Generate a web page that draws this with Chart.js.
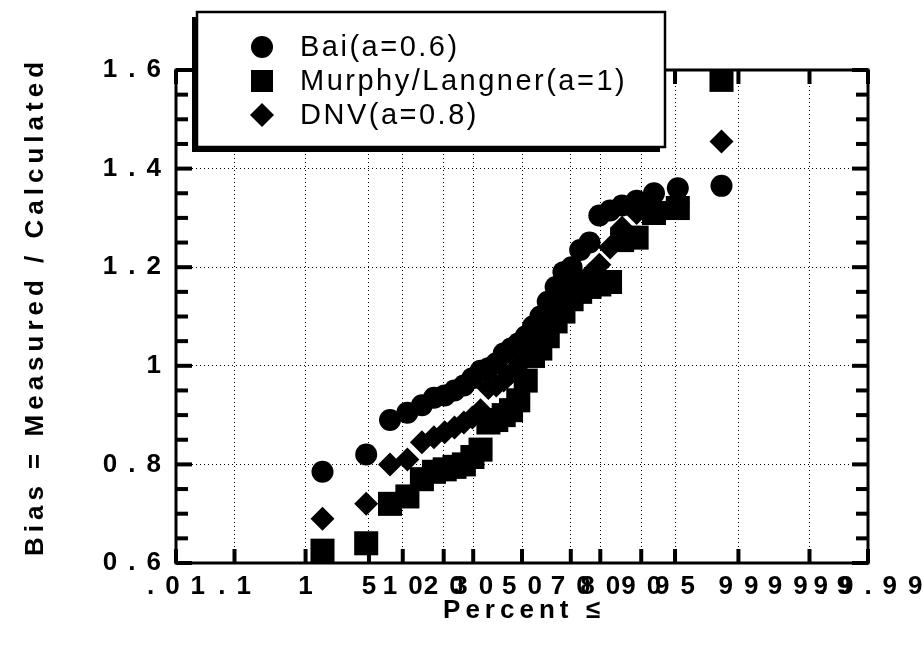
<!DOCTYPE html>
<html>
<head>
<meta charset="utf-8">
<script src="https://cdn.jsdelivr.net/npm/chart.js@4.4.1/dist/chart.umd.min.js"></script>
<style>
  html, body { margin: 0; padding: 0; background: #fff; }
</style>
</head>
<body>
<canvas id="biasPlot" width="924" height="655"></canvas>
<script>
// plotting position (percent <=) shared by the three models
var percentLe = [1.6, 4.7, 7.8, 10.9, 14.1, 17.2, 20.3, 23.4, 26.6, 29.7, 32.8, 35.9, 39.1, 42.2, 45.3, 48.4,
                 51.6, 54.7, 57.8, 60.9, 64.1, 67.2, 70.3, 73.4, 76.6, 79.7, 82.8, 85.9, 89.1, 92.2, 95.3, 98.4];
var baiBias = [0.785, 0.82, 0.89, 0.905, 0.92, 0.935, 0.94, 0.95, 0.96, 0.975, 0.99, 0.995, 1.005, 1.025, 1.035, 1.045,
               1.06, 1.08, 1.1, 1.13, 1.16, 1.19, 1.2, 1.235, 1.25, 1.305, 1.315, 1.325, 1.335, 1.35, 1.36, 1.365];
var murphyBias = [0.625, 0.64, 0.72, 0.735, 0.77, 0.785, 0.79, 0.795, 0.8, 0.815, 0.83, 0.885, 0.89, 0.9, 0.91, 0.93,
                  0.97, 1.02, 1.035, 1.06, 1.09, 1.11, 1.135, 1.15, 1.16, 1.165, 1.17, 1.255, 1.26, 1.31, 1.32, 1.58];
var dnvBias = [0.69, 0.72, 0.8, 0.81, 0.845, 0.855, 0.865, 0.875, 0.885, 0.895, 0.91, 0.955, 0.96, 0.97, 0.985, 1.0,
               1.025, 1.045, 1.08, 1.1, 1.135, 1.15, 1.165, 1.17, 1.185, 1.205, 1.24, 1.28, 1.31, 1.325, 1.33, 1.455];

var seriesNames = ["Bai(a=0.6)", "Murphy/Langner(a=1)", "DNV(a=0.8)"];
var percentTicks = [0.01, 0.1, 1, 5, 10, 20, 30, 50, 70, 80, 90, 95, 99, 99.9, 99.99];
var biasMin = 0.6, biasMax = 1.6, biasStep = 0.2;
var xTitle = "Percent \u2264";
var yTitle = "Bias = Measured / Calculated";

var tickSpacing = 11;   // the old plot spreads its tick digits out a lot

// inverse normal cdf (Acklam) - used by the probability scale
function probit(pct) {
  var p = pct / 100;
  var a = [-39.69683028665376, 220.9460984245205, -275.9285104469687, 138.3577518672690, -30.66479806614716, 2.506628277459239];
  var b = [-54.47609879822406, 161.5858368580409, -155.6989798598866, 66.80131188771972, -13.28068155288572];
  var c = [-0.007784894002430293, -0.3223964580411365, -2.400758277161838, -2.549671010115819, 4.374664141464968, 2.938163982698783];
  var d = [0.007784695709041462, 0.3224671290700398, 2.445134137142996, 3.754408661907416];
  var q, r;
  if (p < 0.02425) {
    q = Math.sqrt(-2 * Math.log(p));
    return (((((c[0]*q+c[1])*q+c[2])*q+c[3])*q+c[4])*q+c[5]) / ((((d[0]*q+d[1])*q+d[2])*q+d[3])*q+1);
  }
  if (p > 1 - 0.02425) {
    q = Math.sqrt(-2 * Math.log(1 - p));
    return -(((((c[0]*q+c[1])*q+c[2])*q+c[3])*q+c[4])*q+c[5]) / ((((d[0]*q+d[1])*q+d[2])*q+d[3])*q+1);
  }
  q = p - 0.5; r = q * q;
  return (((((a[0]*r+a[1])*r+a[2])*r+a[3])*r+a[4])*r+a[5])*q / (((((b[0]*r+b[1])*r+b[2])*r+b[3])*r+b[4])*r+1);
}

function normCdf(z) {
  // Abramowitz-Stegun approximation, only needed for pixel -> value
  var t = 1 / (1 + 0.2316419 * Math.abs(z));
  var y = 0.3989423 * Math.exp(-z * z / 2) * t * (0.3193815 + t * (-0.3565638 + t * (1.781478 + t * (-1.821256 + t * 1.330274))));
  return z > 0 ? 1 - y : y;
}

class ProbitScale extends Chart.Scale {
  determineDataLimits() {
    this.min = this.options.min;
    this.max = this.options.max;
  }
  buildTicks() {
    return percentTicks.map(function(v) { return {value: v}; });
  }
  configure() {
    super.configure();
    this._zStart = probit(this.min);
    this._zRange = probit(this.max) - this._zStart;
  }
  getPixelForValue(v) {
    return this.getPixelForDecimal((probit(v) - this._zStart) / this._zRange);
  }
  getValueForPixel(px) {
    var dec = this.getDecimalForPixel(px);
    return 100 * normCdf(this._zStart + dec * this._zRange);
  }
  getLabelForValue(v) {
    return String(v);
  }
}
ProbitScale.id = 'probit';
ProbitScale.defaults = {};
Chart.register(ProbitScale);

function toPoints(ys) {
  return percentLe.map(function(p, i) { return {x: p, y: ys[i]}; });
}

var markerStyles = ['circle', 'rect', 'rectRot'];
var markerRadius = [11, 17, 12];

// frame, inward tick marks, titles and the boxed legend
var probPlotDecor = {
  id: 'probPlotDecor',
  beforeDraw: function(chart) {
    chart.ctx.letterSpacing = tickSpacing + 'px';
  },
  afterDraw: function(chart) {
    var ctx = chart.ctx, a = chart.chartArea, xs = chart.scales.x, ys = chart.scales.y;
    ctx.save();
    ctx.letterSpacing = '0px';
    ctx.fillStyle = '#000';
    for (var k = 0; k <= 20; k++) {
      var py = ys.getPixelForValue(biasMin + k * 0.05);
      var len = (k % 4 === 0) ? 16 : 12;
      ctx.fillRect(a.left, py - 2, len, 4);
      ctx.fillRect(a.right - len, py - 2, len, 4);
    }
    xs.ticks.forEach(function(t) {
      var px = xs.getPixelForValue(t.value);
      ctx.fillRect(px - 2, a.bottom - 14, 4, 14);
      ctx.fillRect(px - 2, a.top, 4, 14);
    });
    ctx.lineWidth = 3;
    ctx.strokeStyle = '#000';
    ctx.strokeRect(a.left, a.top, a.right - a.left, a.bottom - a.top);

    // axis titles
    ctx.font = 'bold 26px "Liberation Sans", Arial, sans-serif';
    ctx.letterSpacing = '5px';
    ctx.textAlign = 'center';
    ctx.textBaseline = 'alphabetic';
    ctx.fillText(xTitle, (a.left + a.right) / 2 + 2, a.bottom + 55);
    ctx.save();
    ctx.translate(36, (a.top + a.bottom) / 2 - 8);
    ctx.rotate(-Math.PI / 2);
    ctx.textBaseline = 'middle';
    ctx.fillText(yTitle, 2, 0);
    ctx.restore();

    // legend box with drop shadow
    var lx = 197, ly = 12, lw = 468, lh = 135;
    ctx.fillRect(lx - 5, ly + 5, lw, lh);
    ctx.fillStyle = '#fff';
    ctx.fillRect(lx, ly, lw, lh);
    ctx.lineWidth = 2.5;
    ctx.strokeRect(lx, ly, lw, lh);
    ctx.fillStyle = '#000';
    ctx.font = '29px "Liberation Sans", Arial, sans-serif';
    ctx.letterSpacing = '2.5px';
    ctx.textAlign = 'left';
    ctx.textBaseline = 'middle';
    chart.data.datasets.forEach(function(ds, i) {
      var cy = ly + 35 + i * 34, cx = 262;
      ctx.beginPath();
      if (ds.pointStyle === 'circle') {
        ctx.arc(cx, cy, 11, 0, Math.PI * 2);
      } else if (ds.pointStyle === 'rect') {
        ctx.rect(cx - 11, cy - 11, 22, 22);
      } else {
        ctx.moveTo(cx, cy - 12); ctx.lineTo(cx + 12, cy); ctx.lineTo(cx, cy + 12); ctx.lineTo(cx - 12, cy);
        ctx.closePath();
      }
      ctx.fill();
      ctx.fillText(ds.label, 300, cy + 1);
    });
    ctx.restore();
  }
};

var tickFont = { family: '"Liberation Sans", Arial, sans-serif', size: 26, weight: 'bold' };
var series = [baiBias, murphyBias, dnvBias];
var ctx = document.getElementById('biasPlot').getContext('2d');
var chart = new Chart(ctx, {
  type: 'scatter',
  data: {
    datasets: series.map(function(ys, i) {
      return {
        label: seriesNames[i],
        data: toPoints(ys),
        pointStyle: markerStyles[i],
        pointRadius: markerRadius[i],
        pointHoverRadius: markerRadius[i],
        backgroundColor: '#000',
        borderColor: '#000',
        borderWidth: 0,
        showLine: false
      };
    })
  },
  options: {
    responsive: false,
    devicePixelRatio: 1,
    animation: false,
    layout: { padding: { left: 0, top: 70, right: 56, bottom: 0 } },
    plugins: {
      legend: { display: false },
      tooltip: { enabled: false }
    },
    scales: {
      x: {
        type: 'probit',
        position: 'bottom',
        min: 0.01,
        max: 99.99,
        afterFit: function(s) { s.height = 92; },
        border: { display: false, dash: [1, 3] },
        grid: { color: '#000', lineWidth: 1, drawTicks: false },
        ticks: {
          autoSkip: false,
          maxRotation: 0,
          padding: 8,
          labelOffset: tickSpacing / 2,
          color: '#000',
          font: tickFont,
          callback: function(v) { return String(v).replace(/^0\./, '.'); }
        }
      },
      y: {
        min: biasMin,
        max: biasMax,
        afterFit: function(s) { s.width = 176; },
        border: { display: false, dash: [1, 3] },
        grid: { color: '#000', lineWidth: 1, drawTicks: false },
        ticks: {
          stepSize: biasStep,
          padding: 4,
          color: '#000',
          font: tickFont,
          callback: function(v) { return String(Math.round(v * 100) / 100); }
        }
      }
    }
  },
  plugins: [probPlotDecor]
});
</script>
</body>
</html>
